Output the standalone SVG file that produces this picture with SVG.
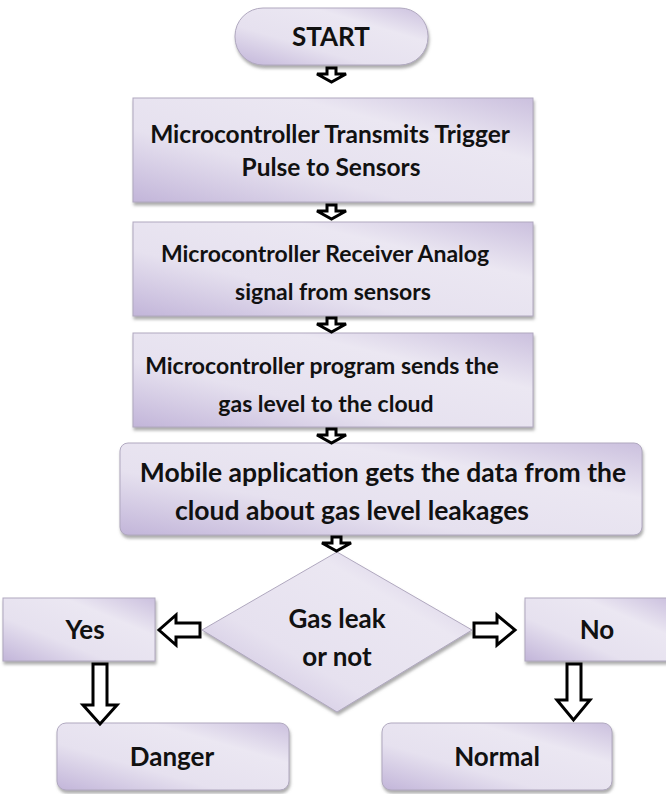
<svg xmlns="http://www.w3.org/2000/svg" width="666" height="794" viewBox="0 0 666 794">
<defs>
<linearGradient id="g" x1="0" y1="1" x2="1" y2="0">
<stop offset="0" stop-color="#c2b5d9"/>
<stop offset="0.35" stop-color="#e6e1ef"/>
<stop offset="0.7" stop-color="#ebe7f2"/>
<stop offset="1" stop-color="#cbc0de"/>
</linearGradient>
<filter id="sh" x="-5%" y="-10%" width="110%" height="130%">
<feDropShadow dx="1" dy="3" stdDeviation="1.5" flood-color="#777" flood-opacity="0.6"/>
</filter>
<style>
.n{fill:url(#g);stroke:#b0a8bf;stroke-width:1;filter:url(#sh)}
.t{font-family:Lato,"Open Sans","Liberation Sans",sans-serif;font-weight:bold;font-size:23px;fill:#111;text-anchor:middle}
.b{font-size:26.5px}
.c{font-size:26px}
.a{fill:#fff;stroke:#000;stroke-width:3;stroke-linejoin:miter}
</style>
</defs>
<rect width="666" height="794" fill="#fff"/>
<g id="start"><rect class="n" x="235" y="8" width="193" height="57" rx="28"/><text class="t c" x="331" y="46">START</text></g>
<g id="box1"><rect class="n" x="133" y="98" width="400" height="104"/><text class="t" x="330" y="143" style="font-size:24.5px">Microcontroller Transmits Trigger</text><text class="t" x="331" y="176" style="font-size:24.5px">Pulse to Sensors</text></g>
<g id="box2"><rect class="n" x="133" y="222" width="400" height="94"/><text class="t" x="325" y="262">Microcontroller Receiver Analog</text><text class="t" x="333" y="300">signal from sensors</text></g>
<g id="box3"><rect class="n" x="133" y="333" width="400" height="94"/><text class="t" x="322" y="374">Microcontroller program sends the</text><text class="t" x="326" y="412">gas level to the cloud</text></g>
<g id="box4"><rect class="n" x="120" y="443" width="522" height="92" rx="8"/><text class="t b" x="383" y="482">Mobile application gets the data from the</text><text class="t b" x="352" y="520">cloud about gas level leakages</text></g>
<g id="decision"><polygon class="n" points="337,552 472,630 337,712 202,630"/><text class="t c" x="337" y="628">Gas leak</text><text class="t c" x="337" y="666">or not</text></g>
<g id="yes"><rect class="n" x="3" y="598" width="152" height="63"/><text class="t c" x="85" y="639">Yes</text></g>
<g id="no"><rect class="n" x="525" y="598" width="145" height="63"/><text class="t c" x="597" y="639">No</text></g>
<g id="danger"><rect class="n" x="57" y="723" width="232" height="67" rx="9"/><text class="t c" x="172" y="766">Danger</text></g>
<g id="normal"><rect class="n" x="382" y="723" width="230" height="67" rx="9"/><text class="t c" x="497" y="766">Normal</text></g>
<g id="connectors">
<polygon class="a" points="327,68 336,68 336,74 346,74 331.5,82 317,74 327,74"/>
<polygon class="a" points="327,205 336,205 336,211 346,211 331.5,219 317,211 327,211"/>
<polygon class="a" points="327,318 336,318 336,324 346,324 331.5,332 317,324 327,324"/>
<polygon class="a" points="327,429 336,429 336,435 346,435 331.5,443 317,435 327,435"/>
<polygon class="a" points="332,537 341,537 341,543 351,543 336.5,551 322,543 332,543"/>
<polygon class="a" points="200,623 176,623 176,615 159,630 176,645 176,637 200,637"/>
<polygon class="a" points="474,623 497,623 497,615 515,630 497,645 497,637 474,637"/>
<polygon class="a" points="93,664 107,664 107,705 117,705 100,724 83,705 93,705"/>
<polygon class="a" points="567,664 581,664 581,700 590,700 573.5,720 557,700 567,700"/>
</g>
</svg>
